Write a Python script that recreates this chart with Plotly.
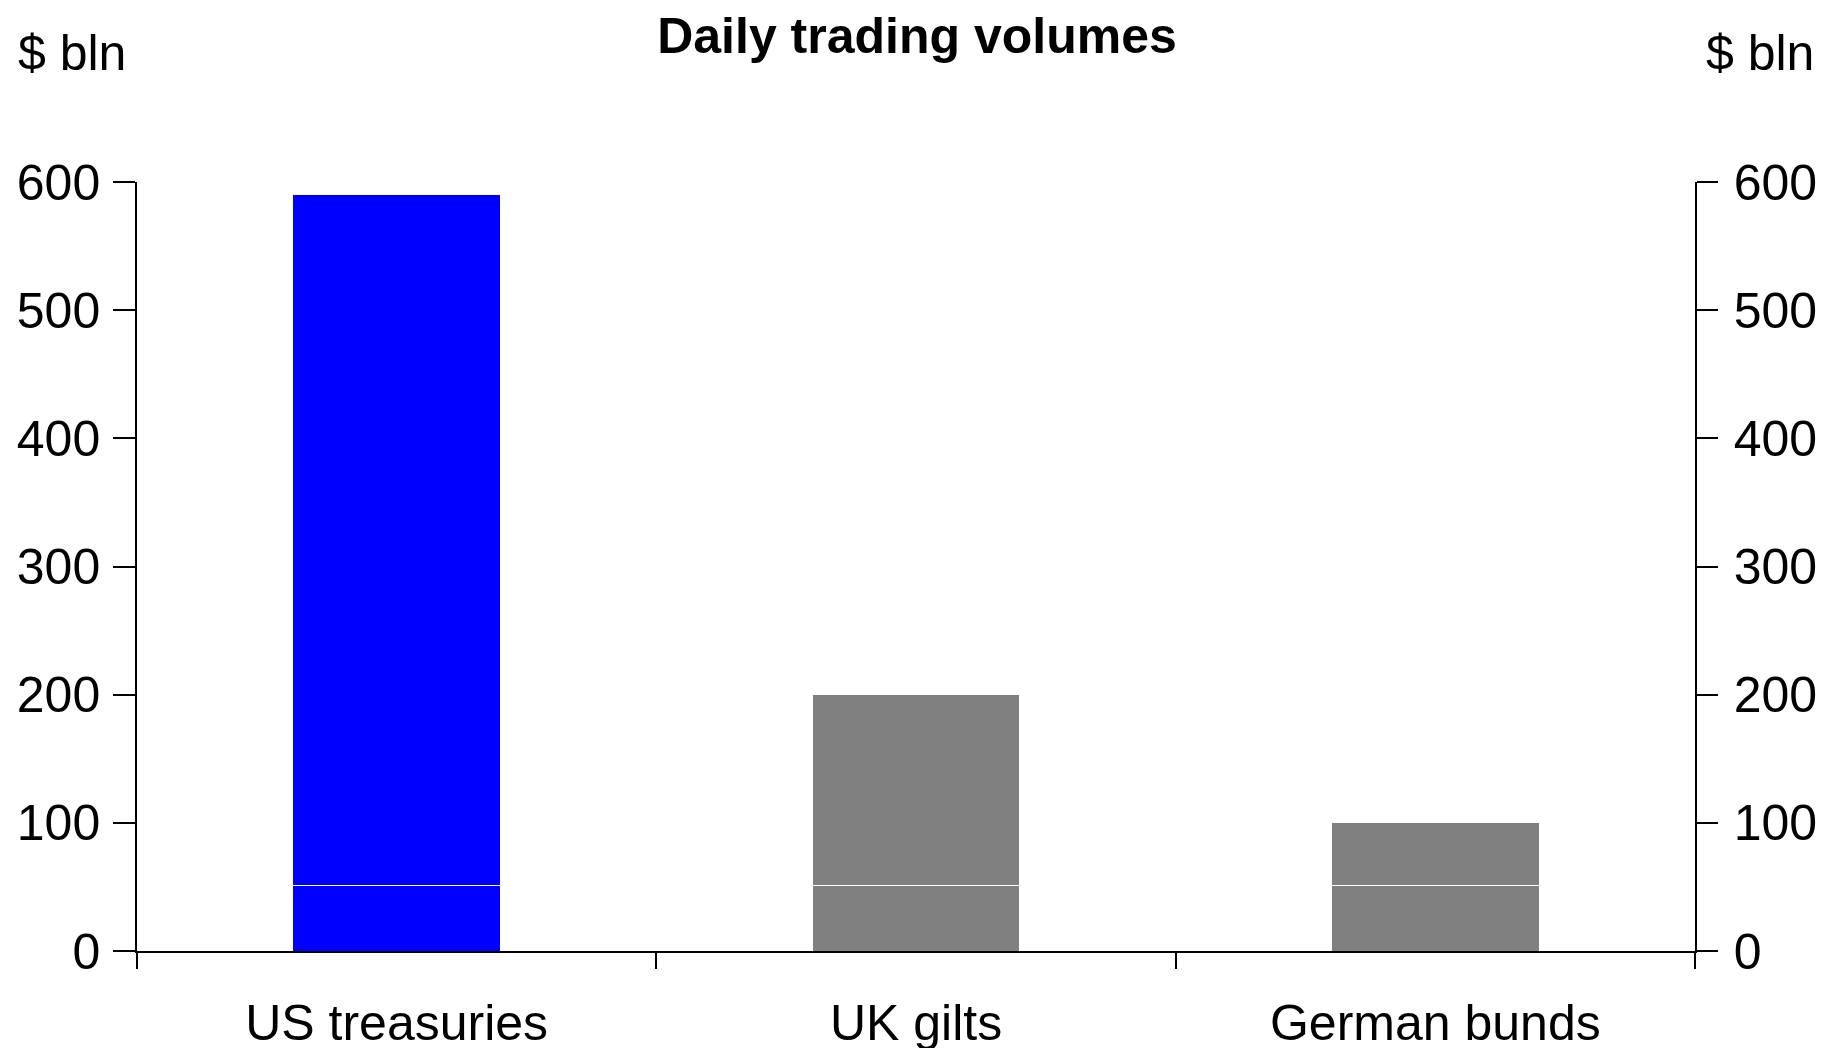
import plotly.graph_objects as go

categories = ["US treasuries", "UK gilts", "German bunds"]
totals = [590, 200, 100]
lower_segment = [51, 51, 51]
bar_colors = ["#0000FF", "#808080", "#808080"]
y_ticks = [0, 100, 200, 300, 400, 500, 600]

upper_segment = [t - l for t, l in zip(totals, lower_segment)]

W, H = 1837, 1048
OFF = 8  # page body margin offset
L, R, T, B = 137 - OFF, 142 + OFF, 182 - OFF, 97 + OFF
plot_w = W - L - R
plot_h = H - T - B

FONT = "Liberation Sans, Arial, sans-serif"
FS = 50

fig = go.Figure()
for vals in (lower_segment, upper_segment):
    fig.add_trace(go.Bar(
        x=categories, y=vals, width=0.4,
        marker=dict(color=bar_colors, line=dict(color="white", width=1)),
        showlegend=False, hoverinfo="skip",
    ))
# invisible trace for right axis
fig.add_trace(go.Scatter(x=categories, y=totals, yaxis="y2", mode="markers",
                         marker=dict(opacity=0), showlegend=False, hoverinfo="skip"))

fig.update_layout(
    width=W, height=H,
    margin=dict(l=L, r=R, t=T, b=B, autoexpand=False),
    barmode="stack",
    plot_bgcolor="white", paper_bgcolor="white",
    font=dict(family=FONT, size=FS, color="black"),
    title=dict(text="<b>Daily trading volumes</b>", x=(917 - OFF) / W, xanchor="center",
               y=1 - (35 - OFF) / H, yanchor="middle", font=dict(size=FS),
               automargin=False),
    xaxis=dict(
        type="category", tickson="boundaries", ticks="outside", ticklen=16,
        tickcolor="black", tickwidth=1.5, showline=True, linecolor="black",
        linewidth=2, showgrid=False, zeroline=False, automargin=False,
        tickfont=dict(size=FS), range=[-0.5, 2.5], ticklabelstandoff=27,
    ),
    yaxis=dict(
        range=[0, 600], tickvals=y_ticks, ticks="outside", ticklen=22,
        tickcolor="black", tickwidth=1.5, showline=True, linecolor="black",
        linewidth=1.5, showgrid=False, zeroline=False, tickfont=dict(size=FS),
        ticklabelstandoff=3, automargin=False,
    ),
    yaxis2=dict(
        range=[0, 600], tickvals=y_ticks, overlaying="y", side="right",
        ticks="outside", ticklen=21, tickcolor="black", tickwidth=1.5,
        showline=True, linecolor="black", linewidth=1.5, showgrid=False,
        zeroline=False, tickfont=dict(size=FS), ticklabelstandoff=6,
        automargin=False,
    ),
    annotations=[
        dict(text="$ bln", xref="paper", yref="paper",
             x=(16 - OFF - L) / plot_w, y=(H - B - (53 - OFF)) / plot_h,
             xanchor="left", yanchor="middle", showarrow=False,
             font=dict(size=FS)),
        dict(text="$ bln", xref="paper", yref="paper",
             x=(1816 - OFF - L) / plot_w, y=(H - B - (53 - OFF)) / plot_h,
             xanchor="right", yanchor="middle", showarrow=False,
             font=dict(size=FS)),
    ],
)

fig.write_html("out.html")
